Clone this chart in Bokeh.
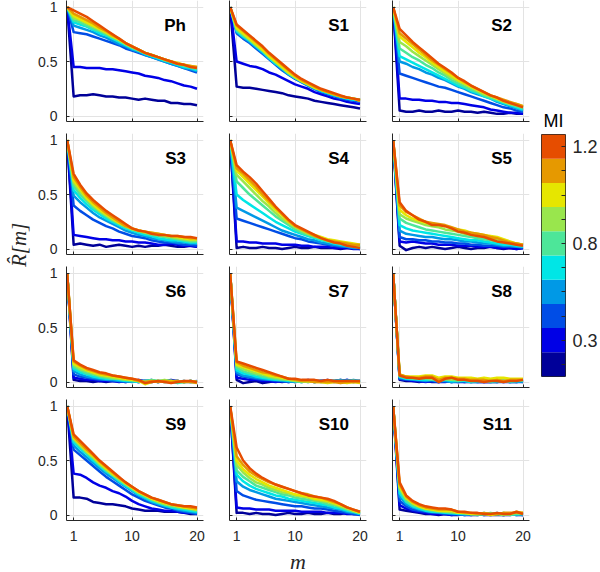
import math
from bokeh.plotting import figure
from bokeh.layouts import row, column
from bokeh.models import FixedTicker, Label, Range1d
from bokeh.embed import file_html
from bokeh.resources import INLINE

# ---------------- data ----------------
M = list(range(21))
PANEL_NAMES = ["Ph", "S1", "S2", "S3", "S4", "S5", "S6", "S7", "S8", "S9", "S10", "S11"]
COLORS = ["#000099", "#0000E6", "#004DE6", "#0099E6", "#00E6E6",
          "#4DE699", "#99E64D", "#E6E600", "#E69900", "#E64D00"]
CBAR_BANDS = [1, 2, 3, 4, 5, 6, 7, 8, 9, 10]
CBAR_TICKS = [2, 6, 10]
CBAR_TICK_LABELS = ["0.3", "0.8", "1.2"]
X_TICKS = [1, 10, 20]
X_TICK_LABELS = ["1", "10", "20"]
Y_TICKS = [0, 0.5, 1]
Y_TICK_LABELS = ["0", "0.5", "1"]

PH = [
    [1, .18, .19, .19, .20, .19, .18, .18, .17, .17, .16, .15, .16, .15, .14, .14, .12, .12, .11, .11, .10],
    [1, .45, .45, .44, .44, .44, .43, .43, .42, .41, .40, .39, .37, .36, .35, .33, .32, .30, .28, .27, .25],
    [1, .77, .76, .75, .73, .71, .69, .67, .65, .62, .60, .58, .56, .54, .52, .50, .48, .46, .44, .42, .40],
    [1, .83, .81, .79, .77, .74, .72, .69, .66, .64, .61, .59, .56, .54, .52, .50, .48, .46, .44, .43, .41],
    [1, .86, .84, .82, .79, .76, .74, .71, .68, .65, .62, .60, .57, .55, .53, .51, .49, .47, .45, .44, .42],
    [1, .88, .86, .83, .80, .78, .75, .72, .69, .66, .63, .60, .58, .56, .54, .51, .50, .48, .46, .45, .43],
    [1, .90, .88, .85, .82, .79, .76, .73, .70, .66, .63, .61, .58, .56, .54, .52, .50, .48, .47, .45, .44],
    [1, .92, .89, .86, .83, .80, .77, .73, .70, .67, .64, .61, .58, .56, .54, .52, .50, .49, .47, .46, .45],
    [1, .94, .91, .88, .85, .81, .78, .74, .71, .67, .64, .61, .58, .56, .54, .52, .50, .48, .47, .46, .45],
    [1, .97, .94, .91, .87, .83, .79, .75, .71, .67, .64, .61, .58, .56, .54, .52, .50, .48, .47, .45, .44],
]
S1 = [
    [1, .27, .26, .26, .25, .24, .23, .22, .21, .19, .18, .17, .16, .14, .13, .12, .11, .10, .09, .08, .07],
    [1, .50, .48, .46, .45, .43, .40, .38, .35, .32, .29, .27, .25, .22, .20, .18, .16, .15, .13, .12, .11],
    [1, .76, .71, .67, .62, .57, .52, .47, .42, .38, .34, .31, .28, .25, .22, .20, .18, .16, .15, .14, .13],
    [1, .77, .72, .68, .63, .58, .53, .48, .43, .38, .35, .31, .28, .25, .23, .21, .19, .17, .16, .15, .14],
    [1, .78, .73, .69, .64, .59, .53, .48, .44, .39, .35, .32, .29, .26, .23, .21, .19, .18, .16, .15, .15],
    [1, .79, .74, .70, .65, .60, .54, .49, .44, .39, .35, .32, .29, .26, .24, .22, .20, .18, .17, .16, .15],
    [1, .80, .75, .70, .65, .60, .55, .50, .45, .40, .36, .32, .29, .26, .24, .22, .20, .18, .17, .16, .15],
    [1, .81, .76, .71, .66, .61, .55, .50, .45, .40, .36, .32, .29, .26, .24, .22, .20, .18, .17, .16, .14],
    [1, .83, .78, .73, .68, .63, .57, .52, .47, .42, .37, .33, .30, .27, .24, .22, .20, .18, .17, .16, .14],
    [1, .84, .79, .74, .69, .64, .58, .53, .48, .43, .38, .34, .31, .28, .25, .23, .21, .19, .17, .16, .15],
]
S2 = [
    [1, .05, .04, .04, .05, .04, .04, .05, .04, .04, .05, .04, .04, .03, .04, .03, .02, .02, .03, .02, .02],
    [1, .16, .16, .15, .15, .14, .14, .13, .13, .12, .12, .11, .10, .09, .08, .06, .05, .04, .03, .03, .02],
    [1, .39, .37, .35, .33, .31, .29, .27, .26, .24, .22, .20, .18, .16, .14, .12, .10, .08, .07, .05, .04],
    [1, .50, .48, .45, .43, .40, .38, .35, .33, .30, .27, .25, .22, .20, .18, .16, .13, .11, .09, .07, .05],
    [1, .55, .52, .49, .46, .43, .40, .37, .34, .31, .28, .26, .23, .21, .18, .16, .14, .12, .10, .08, .06],
    [1, .62, .58, .54, .51, .47, .44, .40, .37, .33, .30, .27, .24, .22, .19, .17, .15, .13, .11, .09, .07],
    [1, .68, .64, .59, .55, .51, .47, .43, .39, .35, .32, .29, .26, .23, .20, .18, .16, .13, .11, .10, .08],
    [1, .73, .68, .63, .58, .54, .49, .45, .41, .37, .33, .30, .27, .24, .21, .19, .16, .14, .12, .11, .09],
    [1, .76, .71, .66, .61, .56, .51, .47, .43, .39, .35, .31, .28, .25, .22, .19, .17, .15, .13, .11, .09],
    [1, .80, .74, .68, .63, .58, .53, .48, .44, .40, .35, .32, .28, .25, .22, .19, .17, .14, .12, .10, .08],
]
S3 = [
    [1, .04, .05, .04, .03, .04, .02, .03, .04, .03, .02, .03, .02, .03, .03, .04, .03, .02, .02, .03, .02],
    [1, .13, .12, .11, .10, .09, .09, .08, .08, .07, .07, .06, .06, .05, .04, .04, .05, .04, .03, .03, .02],
    [1, .40, .35, .31, .27, .24, .21, .19, .16, .14, .12, .11, .10, .08, .07, .06, .06, .05, .04, .04, .03],
    [1, .49, .43, .38, .33, .29, .26, .23, .20, .17, .15, .13, .12, .10, .09, .08, .07, .06, .06, .05, .05],
    [1, .54, .47, .41, .36, .32, .28, .25, .22, .19, .17, .15, .13, .12, .10, .09, .08, .08, .07, .06, .06],
    [1, .58, .50, .44, .38, .34, .30, .26, .23, .20, .18, .16, .15, .13, .12, .11, .10, .09, .08, .07, .07],
    [1, .61, .53, .46, .40, .35, .31, .27, .24, .21, .18, .17, .15, .14, .13, .12, .11, .10, .09, .08, .08],
    [1, .63, .55, .47, .41, .36, .32, .28, .24, .21, .19, .17, .16, .15, .14, .13, .12, .11, .10, .09, .09],
    [1, .66, .57, .49, .43, .38, .33, .29, .25, .21, .19, .17, .16, .15, .14, .13, .12, .12, .11, .10, .10],
    [1, .69, .59, .51, .45, .40, .35, .31, .27, .23, .19, .17, .16, .14, .13, .13, .12, .12, .11, .11, .10],
]
S4 = [
    [1, .01, .02, .01, .01, .02, .01, .01, .00, .01, .02, .01, .01, .02, .01, .01, .01, .00, .01, .01, .00],
    [1, .07, .07, .06, .06, .05, .05, .05, .04, .04, .04, .03, .03, .02, .02, .02, .01, .01, .01, .00, .00],
    [1, .28, .26, .24, .22, .20, .18, .16, .14, .12, .10, .09, .07, .06, .05, .04, .03, .02, .02, .01, .01],
    [1, .38, .35, .32, .29, .26, .23, .20, .17, .15, .13, .11, .09, .08, .06, .05, .04, .03, .02, .01, .01],
    [1, .50, .45, .41, .37, .33, .29, .25, .22, .19, .16, .14, .12, .10, .08, .07, .05, .04, .03, .02, .01],
    [1, .62, .56, .50, .45, .40, .35, .30, .26, .22, .18, .15, .13, .11, .09, .07, .06, .05, .04, .03, .02],
    [1, .68, .62, .56, .50, .44, .39, .33, .28, .24, .20, .17, .14, .12, .10, .08, .07, .05, .04, .03, .03],
    [1, .72, .66, .60, .54, .48, .42, .36, .31, .25, .21, .18, .15, .13, .11, .09, .08, .07, .06, .05, .04],
    [1, .74, .69, .63, .57, .50, .44, .38, .32, .26, .21, .18, .15, .12, .10, .08, .07, .06, .05, .04, .04],
    [1, .77, .71, .66, .60, .53, .46, .39, .33, .27, .22, .19, .16, .13, .10, .08, .06, .05, .03, .02, .01],
]
S5 = [
    [1, .03, -.01, .01, .02, .01, .02, .01, .00, .01, .02, .01, .00, .01, .01, .02, .01, .00, .01, .00, .01],
    [1, .07, .06, .07, .06, .05, .05, .04, .04, .04, .03, .03, .03, .02, .02, .02, .01, .01, .01, .00, .01],
    [1, .11, .09, .09, .08, .08, .07, .07, .06, .06, .05, .05, .04, .04, .03, .03, .03, .02, .02, .02, .01],
    [1, .17, .14, .13, .12, .11, .11, .10, .09, .09, .08, .07, .07, .06, .05, .05, .04, .03, .03, .02, .02],
    [1, .22, .19, .17, .16, .15, .14, .13, .12, .11, .10, .09, .08, .08, .07, .06, .05, .04, .04, .03, .02],
    [1, .28, .24, .22, .20, .18, .17, .16, .15, .14, .13, .12, .11, .10, .09, .08, .07, .06, .05, .04, .03],
    [1, .32, .28, .26, .24, .22, .21, .20, .18, .17, .16, .14, .13, .12, .11, .10, .08, .07, .06, .05, .04],
    [1, .36, .31, .28, .26, .24, .23, .22, .21, .19, .18, .17, .15, .14, .13, .12, .11, .09, .07, .05, .04],
    [1, .40, .34, .31, .28, .25, .24, .23, .22, .20, .18, .16, .15, .14, .13, .11, .10, .08, .06, .05, .04],
    [1, .43, .35, .31, .27, .25, .22, .22, .21, .19, .16, .15, .13, .12, .11, .09, .07, .06, .05, .04, .03],
]
S6 = [
    [1, .02, .01, .01, .00, .01, .00, .01, .01, .00, .01, .00, .01, .01, .00, .01, .00, .01, .00, .01, .00],
    [1, .04, .03, .02, .02, .01, .01, .01, .00, .01, .01, .02, .01, .00, .01, .01, .02, .01, .00, .01, .00],
    [1, .07, .05, .04, .03, .02, .02, .01, .01, .00, .01, .00, .01, .02, .00, .01, .00, .00, .01, .00, .01],
    [1, .10, .07, .05, .04, .03, .02, .02, .01, .01, .00, .01, .00, .00, .01, .00, .00, .01, .00, .00, .00],
    [1, .12, .09, .07, .05, .04, .03, .03, .02, .01, .01, .00, .01, .01, .00, .01, .01, -.01, .00, .01, .00],
    [1, .14, .11, .08, .07, .05, .04, .03, .03, .02, .01, .01, .01, .02, .01, .00, .01, .00, .01, .00, .00],
    [1, .16, .12, .10, .08, .06, .05, .04, .03, .02, .02, .01, .00, .01, .01, .02, .01, .01, .00, .01, .00],
    [1, .17, .14, .11, .09, .07, .06, .05, .04, .03, .02, .01, -.02, .00, .01, .00, .01, .00, .00, .01, .00],
    [1, .19, .15, .12, .10, .08, .07, .06, .05, .04, .03, .01, .00, .01, .00, .01, .00, .01, .00, .00, -.01],
    [1, .20, .16, .13, .11, .09, .08, .06, .05, .04, .03, .02, -.01, .00, .01, .00, -.01, .00, .01, .01, .00],
]
S7 = [
    [1, .02, -.01, .00, .01, -.01, .00, .01, .00, .01, .00, .01, .01, .00, .01, .00, .01, .02, .01, .00, .01],
    [1, .04, .03, .02, .02, .01, .01, .00, .01, .00, .01, .01, .02, .01, .01, .02, .01, .01, .02, .01, .01],
    [1, .07, .05, .04, .03, .02, .02, .01, .01, .00, .01, .00, .01, .00, .01, .01, .00, .01, .02, .01, .00],
    [1, .09, .06, .05, .04, .03, .02, .02, .01, .01, .00, .01, .00, .01, .01, .00, .01, .02, .01, .02, .01],
    [1, .11, .08, .07, .05, .04, .03, .02, .02, .01, .01, .00, .01, .00, .01, .00, .01, .01, .00, .01, .01],
    [1, .13, .10, .08, .07, .05, .04, .03, .02, .02, .01, .00, .01, .01, .00, .01, .01, .00, .01, .01, .00],
    [1, .15, .12, .10, .08, .07, .05, .04, .03, .02, .01, .01, .00, .01, .00, .00, .01, .00, .00, .01, .00],
    [1, .16, .14, .12, .10, .08, .06, .05, .04, .03, .02, .01, .01, .00, .00, -.01, .00, .00, -.01, .00, -.01],
    [1, .18, .15, .13, .11, .09, .08, .06, .05, .03, .02, .01, .01, .00, .00, .00, .00, -.01, .00, .00, .00],
    [1, .19, .17, .15, .13, .11, .09, .07, .05, .03, .03, .02, .02, .02, .01, .02, .01, .01, .01, .01, .01],
]
S8 = [
    [1, .02, .01, .01, .00, .01, .00, .00, .01, .00, .01, .00, .00, .01, .00, .00, .00, .01, .00, .01, .00],
    [1, .03, .02, .01, .01, .00, .01, .00, .00, .01, .00, .00, .01, .00, .00, .00, .01, .00, .00, .00, .01],
    [1, .03, .02, .02, .01, .01, .01, .00, .01, .00, .00, .01, .00, .00, .00, .01, .00, .00, .01, .00, .00],
    [1, .04, .03, .02, .02, .01, .02, .01, .01, .00, .01, .01, .00, .00, .01, .00, .00, .01, .00, .00, .01],
    [1, .05, .03, .03, .02, .02, .02, .01, .02, .01, .01, .01, .00, .01, .01, .00, .01, .01, .00, .01, .01],
    [1, .05, .04, .03, .03, .03, .02, .02, .02, .02, .01, .02, .01, .02, .01, .01, .02, .01, .01, .02, .01],
    [1, .06, .05, .04, .04, .04, .03, .03, .03, .02, .03, .02, .03, .02, .02, .02, .02, .01, .02, .02, .02],
    [1, .07, .05, .05, .05, .06, .06, .04, .05, .05, .04, .04, .04, .03, .04, .03, .04, .04, .03, .03, .03],
    [1, .07, .05, .04, .04, .05, .05, .02, .04, .04, .03, .03, .02, .02, .02, .01, .02, .01, .02, .02, .02],
    [1, .06, .04, .04, .03, .04, .04, .00, .03, .04, .02, .02, .01, .01, .00, .01, .01, .00, .01, .01, .02],
]
S9 = [
    [1, .16, .16, .15, .12, .11, .10, .10, .09, .08, .06, .05, .04, .04, .04, .03, .03, .03, .02, .01, .01],
    [1, .38, .37, .34, .30, .27, .25, .22, .20, .17, .13, .10, .08, .06, .05, .04, .04, .03, .02, .02, .02],
    [1, .60, .55, .50, .45, .40, .35, .31, .27, .23, .19, .16, .13, .11, .09, .07, .06, .04, .03, .02, .01],
    [1, .64, .58, .53, .48, .43, .38, .34, .30, .26, .22, .18, .15, .12, .10, .08, .07, .05, .04, .03, .02],
    [1, .67, .61, .56, .50, .45, .40, .36, .31, .27, .23, .19, .16, .13, .11, .09, .07, .06, .05, .04, .03],
    [1, .69, .63, .57, .52, .46, .41, .37, .32, .28, .24, .20, .17, .14, .12, .10, .08, .07, .06, .05, .04],
    [1, .70, .64, .58, .53, .47, .42, .37, .33, .29, .25, .21, .18, .15, .12, .10, .09, .08, .07, .06, .05],
    [1, .71, .65, .59, .54, .48, .43, .38, .34, .29, .25, .21, .18, .15, .13, .11, .10, .08, .07, .06, .05],
    [1, .72, .66, .60, .55, .49, .44, .39, .34, .30, .26, .22, .19, .16, .14, .12, .10, .09, .08, .07, .06],
    [1, .74, .68, .62, .56, .50, .45, .40, .35, .30, .26, .22, .19, .16, .14, .12, .10, .09, .08, .08, .07],
]
S10 = [
    [1, .02, .02, .01, .02, .01, .01, .00, .01, .02, .01, .01, .02, .01, .01, .02, .01, .01, .02, .01, .01],
    [1, .07, .06, .06, .05, .05, .05, .04, .04, .04, .04, .03, .03, .03, .03, .02, .02, .02, .01, .01, .01],
    [1, .22, .18, .16, .14, .13, .12, .11, .10, .09, .08, .08, .07, .06, .06, .05, .04, .03, .02, .01, .00],
    [1, .31, .26, .23, .21, .19, .17, .15, .14, .13, .12, .11, .10, .09, .08, .07, .06, .05, .03, .02, .01],
    [1, .37, .31, .27, .24, .22, .20, .18, .17, .15, .14, .13, .12, .11, .10, .09, .07, .06, .04, .03, .01],
    [1, .41, .35, .31, .27, .25, .23, .21, .19, .18, .16, .15, .14, .13, .12, .10, .09, .07, .05, .03, .02],
    [1, .46, .39, .34, .30, .28, .25, .23, .21, .20, .18, .17, .16, .14, .13, .12, .10, .08, .06, .04, .02],
    [1, .50, .42, .37, .33, .30, .27, .25, .23, .21, .19, .18, .17, .15, .14, .13, .11, .09, .07, .04, .02],
    [1, .54, .46, .40, .36, .33, .30, .28, .26, .24, .22, .20, .19, .17, .16, .14, .12, .10, .07, .05, .03],
    [1, .62, .50, .43, .38, .34, .31, .28, .26, .24, .22, .20, .18, .17, .16, .15, .13, .10, .07, .05, .03],
]
S11 = [
    [1, .05, .04, .03, .02, .01, .01, .00, .01, .00, .00, .01, .00, .00, .01, .00, .00, .00, .01, .00, .00],
    [1, .09, .06, .04, .03, .02, .01, .01, .01, .00, .01, .00, .00, .01, .00, .00, .01, .00, .00, .01, .00],
    [1, .13, .08, .05, .04, .03, .02, .02, .01, .01, .01, .00, .01, .01, .00, .01, .01, .00, .01, .01, .00],
    [1, .17, .10, .07, .05, .04, .03, .02, .02, .01, .01, .01, .01, .00, .01, .01, .02, .01, .01, .00, .01],
    [1, .20, .12, .08, .06, .04, .03, .03, .02, .02, .01, .01, .01, .01, .02, .01, .01, .02, .01, .01, .01],
    [1, .23, .13, .09, .07, .05, .04, .03, .03, .02, .02, .01, .01, .01, .01, .02, .01, .01, .00, .01, .01],
    [1, .25, .15, .11, .08, .06, .05, .04, .03, .03, .02, .02, .01, .01, .01, .01, .01, .00, .01, .02, .01],
    [1, .26, .16, .11, .08, .06, .05, .04, .04, .04, .02, .02, .01, .01, .01, .00, .01, .02, .01, .03, .02],
    [1, .28, .17, .12, .09, .07, .06, .05, .05, .05, .03, .02, .02, .01, .02, .01, .01, .02, .02, .02, .02],
    [1, .30, .18, .13, .10, .08, .07, .06, .06, .05, .03, .03, .02, .02, .01, .01, .02, .01, .01, .03, .01],
]
PANEL_DATA = [PH, S1, S2, S3, S4, S5, S6, S7, S8, S9, S10, S11]

# ---------------- styling ----------------
AX = "#262626"
GRID = "#e3e3e3"
SANS = "Liberation Sans"
SERIF = "Liberation Serif"

COL_W = [184, 163, 158]
COL_BL = [34, 13, 13]
COL_BR = [13, 13, 8]
ROW_H = [127, 133, 133, 157]
ROW_BT = [0, 6, 6, 6]
ROW_BB = [6, 6, 6, 30]


def make_panel(k):
    r, c = divmod(k, 3)
    p = figure(width=COL_W[c], height=ROW_H[r],
               x_range=Range1d(-0.1, 21), y_range=Range1d(-0.05, 1.06),
               output_backend="svg", toolbar_location=None, title=None,
               min_border_left=COL_BL[c], min_border_right=COL_BR[c],
               min_border_top=ROW_BT[r], min_border_bottom=ROW_BB[r])
    p.outline_line_color = None
    p.background_fill_color = "white"
    for ax, ticks, labels, show in ((p.xaxis[0], X_TICKS, X_TICK_LABELS, r == 3),
                                    (p.yaxis[0], Y_TICKS, Y_TICK_LABELS, c == 0)):
        ax.ticker = FixedTicker(ticks=ticks)
        ax.minor_tick_line_color = None
        ax.major_tick_in = 3
        ax.major_tick_out = 0
        ax.axis_line_color = AX
        ax.major_tick_line_color = AX
        if show:
            ax.major_label_overrides = {t: s for t, s in zip(ticks, labels)}
            ax.major_label_text_font = SANS
            ax.major_label_text_font_size = "14px"
            ax.major_label_text_color = AX
        else:
            ax.major_label_overrides = {t: "" for t in ticks}
            ax.major_label_text_font_size = "1px"
            ax.major_label_standoff = 0
    p.xaxis.major_label_standoff = 10 if r == 3 else 0
    p.yaxis.major_label_standoff = 9 if c == 0 else 0
    p.xgrid.grid_line_color = GRID
    p.ygrid.grid_line_color = GRID
    for i, ys in enumerate(PANEL_DATA[k]):
        p.line(M, ys, line_color=COLORS[i], line_width=2.5, line_join="round")
    p.add_layout(Label(x=18.3, y=0.83, text=PANEL_NAMES[k], text_align="right",
                       text_baseline="alphabetic", text_font=SANS, text_font_style="bold",
                       text_font_size="17px", text_color="black"))
    return p


panels = [make_panel(k) for k in range(12)]

# x label strip under the panels
xl = figure(width=sum(COL_W), height=22, x_range=Range1d(0, sum(COL_W)), y_range=Range1d(0, 22),
            output_backend="svg", toolbar_location=None, title=None,
            x_axis_location=None, y_axis_location=None, min_border=0)
xl.outline_line_color = None
xl.grid.visible = False
xl.add_layout(Label(x=COL_W[0] + COL_BL[1] + 137 / 2, y=11, text="m", text_align="center",
                    text_baseline="middle", text_font=SERIF,
                    text_font_style="italic", text_font_size="22px", text_color=AX))

grid = column(*[row(*panels[3 * r:3 * r + 3]) for r in range(4)], xl)

# y label column
yl = figure(width=32, height=572, x_range=Range1d(0, 32), y_range=Range1d(0, 572),
            output_backend="svg", toolbar_location=None, title=None,
            x_axis_location=None, y_axis_location=None, min_border=0)
yl.outline_line_color = None
yl.grid.visible = False
yl.add_layout(Label(x=18, y=311, text="R\u0302[m]", angle=math.pi / 2,
                    text_align="center", text_baseline="middle", text_font=SERIF,
                    text_font_style="italic", text_font_size="21px", text_color=AX))

# colorbar
cb = figure(width=63, height=572, x_range=Range1d(0, 1), y_range=Range1d(0.5, 10.5),
            output_backend="svg", toolbar_location=None, title="MI",
            x_axis_location=None, y_axis_location="right",
            min_border_left=4, min_border_right=33, min_border_top=134, min_border_bottom=196)
cb.quad(left=0, right=1, bottom=[b - 0.5 for b in CBAR_BANDS], top=[b + 0.5 for b in CBAR_BANDS],
        fill_color=COLORS, line_color=None)
cb.grid.visible = False
cb.outline_line_color = AX
cb.outline_line_width = 1
ya = cb.yaxis[0]
ya.ticker = FixedTicker(ticks=CBAR_TICKS, minor_ticks=[b for b in CBAR_BANDS if b not in CBAR_TICKS])
ya.major_label_overrides = {t: s for t, s in zip(CBAR_TICKS, CBAR_TICK_LABELS)}
ya.axis_line_color = None
ya.major_tick_in = 4
ya.major_tick_out = 0
ya.minor_tick_in = 4
ya.minor_tick_out = 0
ya.major_tick_line_color = AX
ya.minor_tick_line_color = AX
ya.major_label_standoff = 7
ya.major_label_text_font = SANS
ya.major_label_text_font_size = "18px"
ya.major_label_text_color = AX
cb.title.text_font = SANS
cb.title.text_font_size = "18px"
cb.title.text_font_style = "normal"
cb.title.text_color = "black"
cb.title.align = "left"
cb.title.offset = 2
cb.title.standoff = 8

root = row(yl, grid, cb)

open("out.html", "w").write(file_html(root, INLINE))
